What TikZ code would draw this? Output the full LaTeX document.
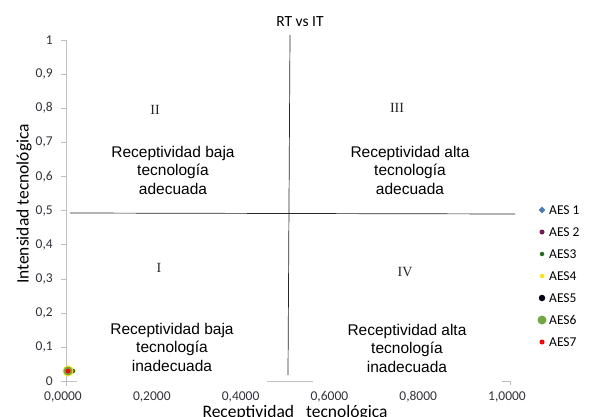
\documentclass[tikz,border=0pt]{standalone}
\usepackage{fontspec}
\newfontfamily\calibrifont{Carlito}
\newfontfamily\arialfont{Liberation Sans}
\newfontfamily\timesfont{Liberation Serif}
\usetikzlibrary{shapes.geometric}

\definecolor{axisgray}{RGB}{191,191,191}
\definecolor{ticktext}{RGB}{50,50,60}
\definecolor{aesblue}{RGB}{74,126,187}
\definecolor{aesmaroon}{RGB}{128,20,90}
\definecolor{aesgreen}{RGB}{30,110,30}
\definecolor{aesyellow}{RGB}{255,228,0}
\definecolor{aesblack}{RGB}{0,0,25}
\definecolor{aeslime}{RGB}{112,168,70}
\definecolor{aesred}{RGB}{255,0,0}

\tikzset{
  quadtext/.style={align=center, inner sep=0pt, font=\arialfont\fontsize{15.5}{18.5}\selectfont},
  roman/.style={inner sep=0pt, text=black!85, font=\timesfont\fontsize{14}{14}\selectfont},
  ticklabel/.style={inner sep=0pt, text=ticktext, font=\calibrifont\fontsize{13.5}{13.5}\selectfont},
  legtext/.style={anchor=west, inner sep=0pt, font=\calibrifont\fontsize{13.5}{13.5}\selectfont},
  dot/.style={circle, inner sep=0pt, fill}
}

\begin{document}
\begin{tikzpicture}[x=444pt, y=341pt]
  \useasboundingbox (-66pt,-35pt) rectangle (523pt,381pt);
  \clip (-66pt,-35pt) rectangle (523pt,381pt);

  % axes
  \draw[axisgray] (0,-5pt) -- (0,1);
  \foreach \i in {0,...,10} {
    \draw[axisgray] (-5pt,\i/10) -- (0,\i/10);
  }
  \draw[axisgray] (-4pt,0) -- (11pt,0);
  \draw[axisgray] (201pt,0) -- (247pt,0);
  \draw[axisgray] (436pt,0) -- (444pt,0) -- (444pt,-4pt);

  \foreach \i/\t in {0/0, 1/{0,1}, 2/{0,2}, 3/{0,3}, 4/{0,4}, 5/{0,5}, 6/{0,6}, 7/{0,7}, 8/{0,8}, 9/{0,9}, 10/1} {
    \node[ticklabel, anchor=east] (yl\i) at (-13pt,\i/10) {\t};
  }
  \foreach \i/\t in {0/{0,0000}, 1/{0,2000}, 2/{0,4000}, 3/{0,6000}, 4/{0,8000}, 5/{1,0000}} {
    \node[ticklabel] (xl\i) at ({\i*0.2*444pt-3pt},-16pt) {\t};
  }

  \node[font=\calibrifont\fontsize{15.5}{15.5}\selectfont] (title) at (234pt,359pt) {RT vs IT};
  \node[rotate=90, font=\calibrifont\fontsize{17.5}{17.5}\selectfont] (ytitle) at (-42pt,177pt) {Intensidad tecnológica};
  \node[anchor=base, font=\calibrifont\fontsize{17.5}{17.5}\selectfont] (xtitle) at (229pt,-36pt) {Receptividad\hspace{12pt}tecnológica};

  % quadrants
  \coordinate (hl) at (4pt,168pt);
  \coordinate (hr) at (449pt,167pt);
  \coordinate (vt) at (224pt,346pt);
  \coordinate (vb) at (222pt,6pt);
  \draw[black!85, line width=0.7pt] (hl) -- (hr);
  \draw[black!85, line width=0.7pt] (vt) -- (vb);

  \node[roman] (qII) at (89pt,271pt) {II};
  \node[roman] (qIII) at (331pt,273pt) {III};
  \node[roman] (qI) at (93pt,113pt) {I};
  \node[roman] (qIV) at (339pt,109pt) {IV};

  \node[quadtext] (tII) at (107pt,211pt) {Receptividad baja\\tecnología\\adecuada};
  \node[quadtext] (tIII) at (344pt,211pt) {Receptividad alta\\tecnología\\adecuada};
  \node[quadtext] (tI) at (106pt,34pt) {Receptividad baja\\tecnología\\inadecuada};
  \node[quadtext] (tIV) at (341pt,33pt) {Receptividad alta\\tecnología\\inadecuada};

  % data
  \node[diamond, fill=aesblue, inner sep=0pt, minimum size=6pt] (p1) at (6pt,10pt) {};
  \node[dot, fill=aesgreen, minimum size=4.5pt] (p3) at (7pt,10pt) {};
  \node[dot, fill=aesmaroon, minimum size=5pt] (p2) at (3pt,10pt) {};
  \node[dot, fill=aesyellow, minimum size=11pt] (p4) at (2pt,10pt) {};
  \node[dot, fill=aesblack, minimum size=6pt] (p5) at (2pt,10pt) {};
  \node[dot, fill=aeslime, minimum size=9pt] (p6) at (2pt,10pt) {};
  \node[dot, fill=aesred, minimum size=4.8pt] (p7) at (2pt,10pt) {};

  % legend
  \foreach \k/\lbl/\col/\sz/\shp in {1/AES 1/aesblue/7pt/diamond, 2/AES 2/aesmaroon/5pt/circle, 3/AES3/aesgreen/4.5pt/circle, 4/AES4/aesyellow/4.5pt/circle, 5/AES5/aesblack/6.5pt/circle, 6/AES6/aeslime/9pt/circle, 7/AES7/aesred/5pt/circle} {
    \node[\shp, fill=\col, inner sep=0pt, minimum size=\sz] (m\k) at (476pt,{193pt-22pt*\k}) {};
    \node[legtext] (l\k) at (483pt,{193pt-22pt*\k}) {\lbl};
  }
\end{tikzpicture}
\end{document}
